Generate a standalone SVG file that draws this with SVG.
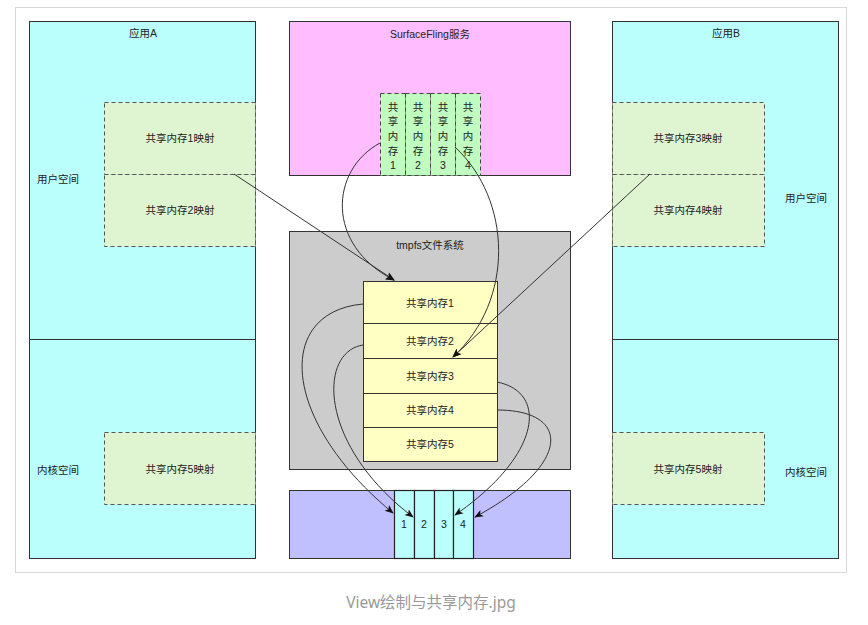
<svg xmlns="http://www.w3.org/2000/svg" width="868" height="625" viewBox="0 0 868 625">
<style>
  text { font-family: "Liberation Sans", "Noto Sans CJK SC", sans-serif; font-size: 10.5px; fill: #222; }
  .c { text-anchor: middle; }
  .box { stroke: #333; stroke-width: 1; }
  .app { fill: #bbfffd; }
  .map { fill: #dff5d2; stroke: #555; stroke-width: 1; stroke-dasharray: 4 3; }
  .sfcol { fill: #c0fcc0; stroke: #444; stroke-width: 1; stroke-dasharray: 4 3; }
  .yel { fill: #ffffc4; stroke: #333; stroke-width: 1; }
  .cyc { fill: #bbfffd; stroke: #222; stroke-width: 1.2; }
  .conn { fill: none; stroke: #333; stroke-width: 1; }
</style>
<defs>
  <marker id="arr" viewBox="0 0 10 10" refX="9" refY="5" markerWidth="9" markerHeight="9" markerUnits="userSpaceOnUse" orient="auto">
    <path d="M0,1 L10,5 L0,9 L2.5,5 Z" fill="#111"/>
  </marker>
</defs>
<rect x="0" y="0" width="868" height="625" fill="#fff"/>
<rect x="15.5" y="7.5" width="831" height="565" fill="none" stroke="#d8d8d8" stroke-width="1"/>

<g id="appA">
  <rect class="box app" x="29.5" y="21.5" width="226" height="537"/>
  <line x1="29.5" y1="339.5" x2="255.5" y2="339.5" stroke="#333" stroke-width="1.2"/>
  <text class="c" x="143" y="37">应用A</text>
  <text x="37" y="183">用户空间</text>
  <text x="37" y="474">内核空间</text>
</g>
<g id="mapA1">
  <rect class="map" x="104.5" y="102.5" width="151" height="72"/>
  <text class="c" x="180" y="142">共享内存1映射</text>
</g>
<g id="mapA2">
  <rect class="map" x="104.5" y="174.5" width="151" height="72"/>
  <text class="c" x="180" y="214">共享内存2映射</text>
</g>
<g id="mapA5">
  <rect class="map" x="104.5" y="432.5" width="151" height="72"/>
  <text class="c" x="180" y="473">共享内存5映射</text>
</g>

<g id="appB">
  <rect class="box app" x="612.5" y="21.5" width="226" height="537"/>
  <line x1="612.5" y1="339.5" x2="838.5" y2="339.5" stroke="#333" stroke-width="1.2"/>
  <text class="c" x="726" y="37">应用B</text>
  <text x="785" y="202">用户空间</text>
  <text x="785" y="476">内核空间</text>
</g>
<g id="mapB3">
  <rect class="map" x="612.5" y="102.5" width="152" height="72"/>
  <text class="c" x="688" y="142">共享内存3映射</text>
</g>
<g id="mapB4">
  <rect class="map" x="612.5" y="174.5" width="152" height="72"/>
  <text class="c" x="688" y="214">共享内存4映射</text>
</g>
<g id="mapB5">
  <rect class="map" x="612.5" y="432.5" width="152" height="72"/>
  <text class="c" x="688" y="473">共享内存5映射</text>
</g>

<g id="surfaceflinger">
  <rect class="box" x="289.5" y="21.5" width="281" height="154" fill="#ffbdff"/>
  <text class="c" x="430" y="38">SurfaceFling服务</text>
</g>
<g id="sf1">
  <rect class="sfcol" x="380.5" y="93.5" width="25" height="82"/>
  <text class="c" x="393" y="111">共</text><text class="c" x="393" y="125">享</text><text class="c" x="393" y="140">内</text><text class="c" x="393" y="155">存</text><text class="c" x="393" y="169">1</text>
</g>
<g id="sf2">
  <rect class="sfcol" x="405.5" y="93.5" width="25" height="82"/>
  <text class="c" x="418" y="111">共</text><text class="c" x="418" y="125">享</text><text class="c" x="418" y="140">内</text><text class="c" x="418" y="155">存</text><text class="c" x="418" y="169">2</text>
</g>
<g id="sf3">
  <rect class="sfcol" x="430.5" y="93.5" width="25" height="82"/>
  <text class="c" x="443" y="111">共</text><text class="c" x="443" y="125">享</text><text class="c" x="443" y="140">内</text><text class="c" x="443" y="155">存</text><text class="c" x="443" y="169">3</text>
</g>
<g id="sf4">
  <rect class="sfcol" x="455.5" y="93.5" width="25" height="82"/>
  <text class="c" x="468" y="111">共</text><text class="c" x="468" y="125">享</text><text class="c" x="468" y="140">内</text><text class="c" x="468" y="155">存</text><text class="c" x="468" y="169">4</text>
</g>

<g id="tmpfs">
  <rect class="box" x="289.5" y="231.5" width="281" height="238" fill="#cccccc"/>
  <text class="c" x="430" y="249">tmpfs文件系统</text>
</g>
<g id="shm1">
  <rect class="yel" x="363.5" y="281.5" width="134" height="42"/>
  <text class="c" x="430" y="307">共享内存1</text>
</g>
<g id="shm2">
  <rect class="yel" x="363.5" y="323.5" width="134" height="35"/>
  <text class="c" x="430" y="345">共享内存2</text>
</g>
<g id="shm3">
  <rect class="yel" x="363.5" y="358.5" width="134" height="35"/>
  <text class="c" x="430" y="380">共享内存3</text>
</g>
<g id="shm4">
  <rect class="yel" x="363.5" y="393.5" width="134" height="34"/>
  <text class="c" x="430" y="414">共享内存4</text>
</g>
<g id="shm5">
  <rect class="yel" x="363.5" y="427.5" width="134" height="34"/>
  <text class="c" x="430" y="448">共享内存5</text>
</g>

<g id="display">
  <rect class="box" x="289.5" y="490.5" width="281" height="68" fill="#c0bfff"/>
</g>
<g id="buf1">
  <rect class="cyc" x="394.5" y="490.5" width="20" height="68"/>
  <text class="c" x="404" y="528">1</text>
</g>
<g id="buf2">
  <rect class="cyc" x="414.5" y="490.5" width="20" height="68"/>
  <text class="c" x="424" y="528">2</text>
</g>
<g id="buf3">
  <rect class="cyc" x="434.5" y="490.5" width="19" height="68"/>
  <text class="c" x="444" y="528">3</text>
</g>
<g id="buf4">
  <rect class="cyc" x="453.5" y="490.5" width="20" height="68"/>
  <text class="c" x="463" y="528">4</text>
</g>

<g id="connectors">
  <line class="conn" x1="234" y1="174" x2="394" y2="280" marker-end="url(#arr)"/>
  <line class="conn" x1="650" y1="174" x2="453" y2="357" marker-end="url(#arr)"/>
  <path class="conn" d="M380,143 C330,170 325,245 394,280" marker-end="url(#arr)"/>
  <path class="conn" d="M455,147 C512,200 515,300 453,357" marker-end="url(#arr)"/>
  <path class="conn" d="M363,304 C275,312 280,420 393,513" marker-end="url(#arr)"/>
  <path class="conn" d="M363,345 C318,352 318,445 413,517" marker-end="url(#arr)"/>
  <path class="conn" d="M497,382 C548,392 542,455 455,515" marker-end="url(#arr)"/>
  <path class="conn" d="M497,410 C572,410 572,465 475,517" marker-end="url(#arr)"/>
</g>

<text class="c" x="431" y="608" style="font-family: 'Noto Sans', 'Noto Sans CJK SC', sans-serif; font-size: 15.5px; fill: #999;">View绘制与共享内存.jpg</text>
</svg>
